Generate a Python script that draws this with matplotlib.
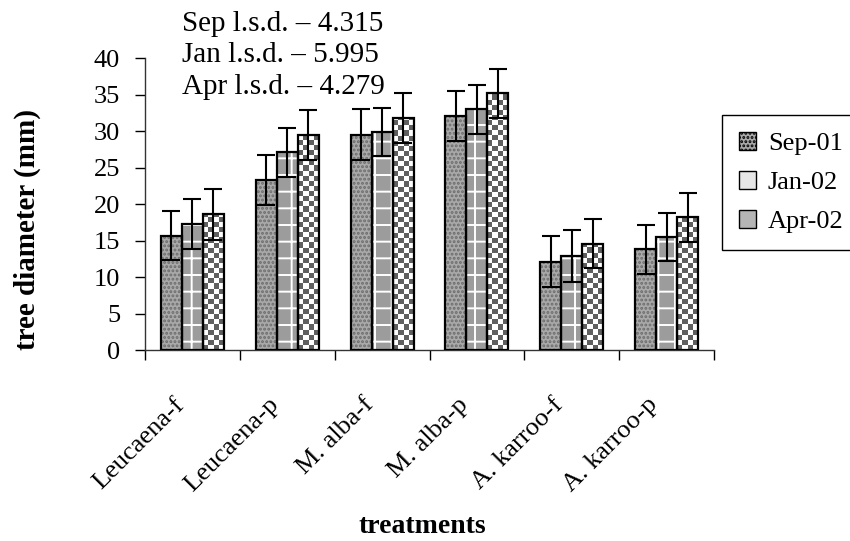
"""
Tree diameter per treatment at three sampling dates (Sep-01, Jan-02, Apr-02).
"""

import numpy as np
import matplotlib

matplotlib.use("Agg")
import matplotlib.pyplot as plt
import matplotlib.transforms as mtransforms
from matplotlib.patches import Patch

treatments = ["Leucaena-f", "Leucaena-p", "M. alba-f", "M. alba-p", "A. karroo-f", "A. karroo-p"]
sep_01 = [15.7, 23.3, 29.5, 32.1, 12.1, 13.8]
jan_02 = [17.3, 27.1, 29.9, 33.0, 12.9, 15.5]
apr_02 = [18.6, 29.5, 31.8, 35.2, 14.6, 18.2]
sep_err = [3.4, 3.4, 3.5, 3.4, 3.5, 3.4]
jan_err = [3.4, 3.4, 3.3, 3.4, 3.5, 3.3]
apr_err = [3.5, 3.4, 3.4, 3.4, 3.4, 3.4]
lsd_notes = ["Sep l.s.d. \u2013 4.315", "Jan l.s.d. \u2013 5.995", "Apr l.s.d. \u2013 4.279"]
series_names = ["Sep-01", "Jan-02", "Apr-02"]

plt.rcParams["font.family"] = ["Liberation Serif", "DejaVu Serif"]
plt.rcParams["hatch.linewidth"] = 1.4


def checker_fill(ax, bars, ncols=4, cell_h=0.7):
    # checkerboard texture clipped to every bar
    for b in bars:
        x0, w, h = b.get_x(), b.get_width(), b.get_height()
        nrows = max(int(np.ceil(h / cell_h)), 1)
        grid = (np.indices((nrows, ncols)).sum(axis=0) % 2).astype(float)
        im = ax.imshow(grid, cmap="gray", vmin=-0.6, vmax=1.0, interpolation="nearest",
                       extent=(x0, x0 + w, 0, nrows * cell_h), origin="lower",
                       aspect="auto", zorder=2)
        im.set_clip_path(b)


def main() -> None:
    fig = plt.figure(figsize=(8.5, 5.41), dpi=100)
    ax = fig.add_axes([0.1706, 0.353, 0.6694, 0.539])

    x = np.arange(len(treatments))
    w = 0.222
    err_kw = dict(ecolor="black", elinewidth=1.5, capsize=6.5, capthick=1.5)

    # Sep-01: stippled grey
    ax.bar(x - w, sep_01, w, color="#a9a9a9", hatch="....", edgecolor="#6c6c6c", linewidth=0, zorder=2)
    # Jan-02: grey with white grid
    ax.bar(x, jan_02, w, color="#9c9c9c", hatch="+", edgecolor="white", linewidth=0, zorder=2)
    # Apr-02: checkerboard
    apr_bars = ax.bar(x + w, apr_02, w, color="white", linewidth=0, zorder=1)
    checker_fill(ax, apr_bars)

    for off, vals, errs in [(-w, sep_01, sep_err), (0, jan_02, jan_err), (w, apr_02, apr_err)]:
        ax.bar(x + off, vals, w, fill=False, edgecolor="black", linewidth=1.6, zorder=3)
        ax.errorbar(x + off, vals, yerr=errs, fmt="none", zorder=4, **err_kw)

    ax.set_xlim(-0.5, len(treatments) - 0.5)
    ax.set_ylim(0, 40)
    ax.set_yticks(np.arange(0, 41, 5))
    ax.tick_params(axis="y", labelsize=19, length=7, width=1, pad=11)

    ax.set_xticks(np.arange(-0.5, len(treatments), 1.0))
    ax.set_xticklabels([])
    ax.tick_params(axis="x", which="major", length=7, width=1)
    ax.set_xticks(x, treatments, minor=True)
    ax.tick_params(axis="x", which="minor", length=0, labelsize=19, pad=37)
    shift = mtransforms.ScaledTranslation(-12 / 100, 0, fig.dpi_scale_trans)
    for lbl in ax.get_xticklabels(minor=True):
        lbl.set_rotation(45)
        lbl.set_ha("right")
        lbl.set_va("center")
        lbl.set_rotation_mode("anchor")
        lbl.set_transform(lbl.get_transform() + shift)

    for side in ["top", "right"]:
        ax.spines[side].set_visible(False)
    for side in ["left", "bottom"]:
        ax.spines[side].set_linewidth(1)
        ax.spines[side].set_color("#333333")

    ax.set_ylabel("tree diameter (mm)", fontsize=21, fontweight="bold")
    ax.yaxis.set_label_coords(-0.183, 0.415)
    fig.text(0.497, 0.027, "treatments", fontsize=20, fontweight="bold", ha="center", va="center")

    for i, note in enumerate(lsd_notes):
        fig.text(0.214, 0.98 - i * 0.058, note, fontsize=21, ha="left", va="top")

    handles = [
        Patch(facecolor="#a9a9a9", edgecolor="black", hatch="...."),
        Patch(facecolor="#e6e6e6", edgecolor="black"),
        Patch(facecolor="#b5b5b5", edgecolor="black"),
    ]
    leg = ax.legend(handles, series_names, loc="upper left", bbox_to_anchor=(0.849, 0.787),
                    bbox_transform=fig.transFigure, fontsize=19, frameon=True, fancybox=False,
                    framealpha=1, edgecolor="black", handlelength=0.65, handleheight=0.65,
                    handletextpad=0.45, labelspacing=0.6, borderpad=0.65, borderaxespad=0)
    leg.get_frame().set_linewidth(1)

    fig.savefig("out.png", dpi=100)


if __name__ == "__main__":
    main()
